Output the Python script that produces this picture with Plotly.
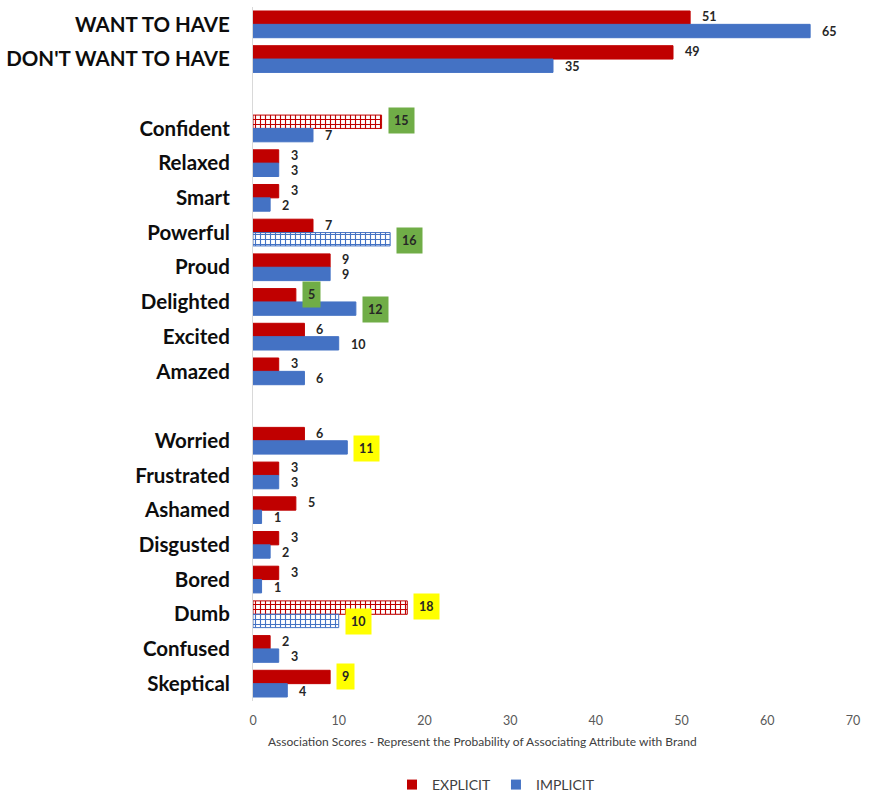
import plotly.graph_objects as go

categories = ["WANT TO HAVE", "DON'T WANT TO HAVE", " ",
              "Confident", "Relaxed", "Smart", "Powerful", "Proud", "Delighted", "Excited", "Amazed", "  ",
              "Worried", "Frustrated", "Ashamed", "Disgusted", "Bored", "Dumb", "Confused", "Skeptical"]
explicit = [51, 49, None, 15, 3, 3, 7, 9, 5, 6, 3, None, 6, 3, 5, 3, 3, 18, 2, 9]
implicit = [65, 35, None, 7, 3, 2, 16, 9, 12, 10, 6, None, 11, 3, 1, 2, 1, 10, 3, 4]

# style flags (highlight box colour / hatched bar) per category
explicit_box = [None, None, None, "#70AD47", None, None, None, None, "#70AD47", None, None, None,
                None, None, None, None, None, "#FFFF00", None, "#FFFF00"]
implicit_box = [None, None, None, None, None, None, "#70AD47", None, "#70AD47", None, None, None,
                "#FFFF00", None, None, None, None, "#FFFF00", None, None]
explicit_hatch = [False, False, False, True, False, False, False, False, False, False, False, False,
                  False, False, False, False, False, True, False, False]
implicit_hatch = [False, False, False, False, False, False, True, False, False, False, False, False,
                  False, False, False, False, False, True, False, False]

RED = "#C00000"
BLUE = "#4472C4"
FONT = "Lato"

def bar_trace(name, vals, color, hatch):
    return go.Bar(
        name=name, y=categories, x=vals, orientation="h", showlegend=False,
        marker=dict(
            color=color,
            line=dict(color=color, width=1),
            pattern=dict(shape=["+" if h else "" for h in hatch], size=5, solidity=0.4,
                         fillmode="replace"),
        ),
        hoverinfo="x+y",
    )

fig = go.Figure()
fig.add_trace(bar_trace("EXPLICIT", explicit, RED, explicit_hatch))
fig.add_trace(bar_trace("IMPLICIT", implicit, BLUE, implicit_hatch))
for name, color in (("EXPLICIT", RED), ("IMPLICIT", BLUE)):
    fig.add_trace(go.Scatter(x=[None], y=[None], mode="markers", name=name,
                             marker=dict(symbol="square", size=10, color=color),
                             showlegend=True))

annotations = []
for vals, boxes, ysh in ((explicit, explicit_box, 7.5), (implicit, implicit_box, -7.5)):
    for cat, v, b in zip(categories, vals, boxes):
        if v is None:
            continue
        annotations.append(dict(
            x=v, y=cat, xref="x", yref="y", text=f"<b>{v}</b>", showarrow=False,
            xanchor="left", yanchor="middle",
            xshift=6 if b else 11, yshift=ysh,
            font=dict(family=FONT, size=12.5, color="#262626"),
            bgcolor=b if b else "rgba(0,0,0,0)", borderpad=5 if b else 0,
        ))

annotations.append(dict(
    x=0.382, y=0, xref="paper", yref="paper", yshift=-40, showarrow=False,
    xanchor="center", yanchor="middle",
    text="Association Scores - Represent the Probability of Associating Attribute with Brand",
    font=dict(family=FONT, size=12, color="#404040"),
))

fig.update_layout(
    width=870, height=798,
    margin=dict(l=253, r=17, t=7, b=97, autoexpand=False),
    paper_bgcolor="white", plot_bgcolor="white",
    barmode="group", bargap=0.23, bargroupgap=0,
    font=dict(family=FONT),
    showlegend=True,
    legend=dict(orientation="h", x=0.405, xanchor="center", y=-0.121, yanchor="middle",
                font=dict(family=FONT, size=14, color="#404040"), traceorder="normal",
                itemwidth=30),
    annotations=annotations,
)
fig.update_xaxes(range=[0, 70], dtick=10, tick0=0, showgrid=False, zeroline=False, showline=False,
                 tickfont=dict(family=FONT, size=12.5, color="#595959"), ticks="outside",
                 ticklen=8, tickcolor="rgba(0,0,0,0)")
fig.update_yaxes(categoryorder="array", categoryarray=categories, range=[19.5, -0.5],
                 showgrid=False, zeroline=False, showline=True, linecolor="#D9D9D9", linewidth=1,
                 ticks="outside", ticklen=18, tickcolor="rgba(0,0,0,0)",
                 tickfont=dict(family=FONT, size=20.5, color="#0D0D0D", weight="bold"))

fig.write_html("out.html")
